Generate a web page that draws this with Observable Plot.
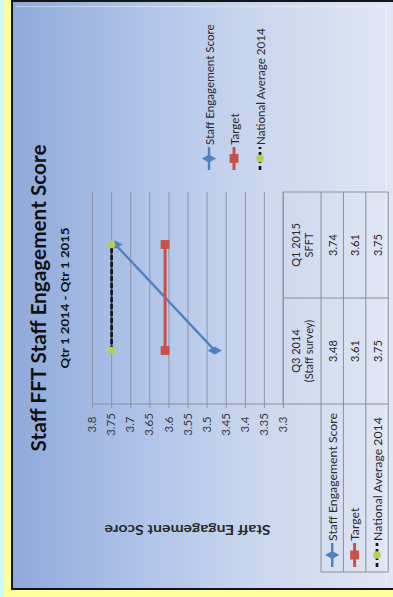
<!DOCTYPE html>
<html>
<head>
<meta charset="utf-8">
<script src="https://cdn.jsdelivr.net/npm/d3@7"></script>
<script src="https://cdn.jsdelivr.net/npm/@observablehq/plot@0.6"></script>
<style>
  html, body { margin: 0; padding: 0; width: 393px; height: 597px; overflow: hidden; background: #cdfafa; }
  #frame { position: absolute; left: 0; top: 0; width: 597px; height: 393px;
           transform-origin: 0 0; transform: translate(0, 597px) rotate(-90deg); }
  #frame > div { position: absolute; }
  #frame svg { position: absolute; left: 0; top: 0; }
</style>
</head>
<body>
<div id="frame">
  <div style="left:0;top:0;width:597px;height:4px;background:#cdfafa"></div>
  <div style="left:0;top:4px;width:597px;height:389px;background:#ffff9e"></div>
  <div style="left:7px;top:11px;width:590px;height:382px;background:#151515"></div>
  <div style="left:9px;top:13px;width:586px;height:380px;background:linear-gradient(to bottom,#8fa9db 0%,#b0c4e8 35%,#cbd7ee 65%,#e0e6f3 100%)"></div>
  <div style="left:12px;top:16px;width:578px;height:370px;border:1px solid rgba(255,255,255,0.45);border-left:none;border-top:none"></div>
</div>
<script>
// Chart values
const categories = ["Q3 2014", "Q1 2015"];
const categoryNotes = ["(Staff survey)", "SFFT"];
const seriesNames = ["Staff Engagement Score", "Target", "National Average 2014"];
const staffScore = [3.48, 3.74];
const target = [3.61, 3.61];
const nationalAverage = [3.75, 3.75];
const yTicks = [3.3, 3.35, 3.4, 3.45, 3.5, 3.55, 3.6, 3.65, 3.7, 3.75, 3.8];
const titleText = "Staff FFT Staff Engagement Score";
const subtitleText = "Qtr 1 2014 - Qtr 1 2015";
const yLabel = "Staff Engagement Score";

const FONT = "Lato, 'Open Sans', sans-serif";
const W = 597, H = 393;

// Series styling (line colour, width, dash, marker)
const series = [
  {name: seriesNames[0], values: staffScore, color: "#4f81bd", width: 2.4, dash: null, symbol: "diamond", r: 4.3, fill: "#4f81bd"},
  {name: seriesNames[1], values: target, color: "#c9504a", width: 3, dash: null, symbol: "square", r: 5, fill: "#c9504a"},
  {name: seriesNames[2], values: nationalAverage, color: "#141414", width: 2.7, dash: "4,3", symbol: "circle", r: 3.7, fill: "#b5cf50"}
];

const marks = [
  Plot.gridY(yTicks, {stroke: "#8990a0", strokeOpacity: 0.9, strokeWidth: 1}),
  Plot.axisY(yTicks, {
    tickSize: 4, tickPadding: 17, textAnchor: "middle",
    tickFormat: d => String(Math.round(d * 100) / 100),
    fill: "#3a3a3a", stroke: "#8990a0", fontSize: 11.5, label: null
  })
];
for (const s of series) {
  const pts = categories.map((c, i) => ({cat: c, value: s.values[i]}));
  marks.push(Plot.line(pts, {x: "cat", y: "value", stroke: s.color, strokeWidth: s.width, strokeDasharray: s.dash}));
  marks.push(Plot.dot(pts, {x: "cat", y: "value", symbol: s.symbol, r: s.r, fill: s.fill, stroke: "none"}));
}

const plot = Plot.plot({
  width: W, height: H,
  marginLeft: 193, marginRight: 192, marginTop: 92, marginBottom: 110,
  style: {background: "transparent", fontFamily: FONT, overflow: "visible"},
  x: {type: "point", domain: categories, padding: 0.5, axis: null},
  y: {domain: [3.3, 3.8]},
  marks
});
document.getElementById("frame").appendChild(plot);

// Scales shared by the axis lines, data table and labels
const xs = plot.scale("x"), ys = plot.scale("y");
const px = c => xs.apply(c);
const step = px(categories[1]) - px(categories[0]);
const left = px(categories[0]) - step / 2;
const right = px(categories[categories.length - 1]) + step / 2;
const plotTop = ys.apply(3.8), plotBottom = ys.apply(3.3);

const svg = d3.select(plot);
const lineCol = "#8a8f99";
const textCol = "#2a2a2a";

// Value axis line
svg.append("line").attr("x1", left).attr("x2", left).attr("y1", plotTop).attr("y2", plotBottom)
  .attr("stroke", lineCol).attr("stroke-width", 1);

// Title and subtitle
const cx = (left + right) / 2;
svg.append("text").attr("x", cx).attr("y", 46).attr("text-anchor", "middle")
  .attr("font-family", FONT).attr("font-weight", 700).attr("font-size", 20)
  .attr("textLength", 307).attr("lengthAdjust", "spacingAndGlyphs")
  .attr("fill", "#111").text(titleText);
svg.append("text").attr("x", cx).attr("y", 69).attr("text-anchor", "middle")
  .attr("font-family", FONT).attr("font-weight", 700).attr("font-size", 11.5)
  .attr("textLength", 141).attr("lengthAdjust", "spacingAndGlyphs")
  .attr("fill", "#111").text(subtitleText);

// Axis title
svg.append("text").attr("transform", `translate(67,${(plotTop + plotBottom) / 2}) rotate(-90)`)
  .attr("text-anchor", "middle").attr("dominant-baseline", "central")
  .attr("font-family", FONT).attr("font-weight", 700).attr("font-size", 13)
  .attr("textLength", 166).attr("lengthAdjust", "spacingAndGlyphs")
  .attr("fill", textCol).text(yLabel);

// Legend key: line segment with its marker
function key(g, s, x0, x1, y) {
  g.append("line").attr("x1", x0).attr("x2", x1).attr("y1", y).attr("y2", y)
    .attr("stroke", s.color).attr("stroke-width", s.width)
    .attr("stroke-dasharray", s.dash);
  const sym = {diamond: d3.symbolDiamond, square: d3.symbolSquare, circle: d3.symbolCircle}[s.symbol];
  g.append("path").attr("transform", `translate(${(x0 + x1) / 2},${y})`)
    .attr("d", d3.symbol(sym, Math.PI * s.r * s.r)()).attr("fill", s.fill);
}

// Legend
const legendRows = [209, 234, 260];
series.forEach((s, i) => {
  const g = svg.append("g");
  key(g, s, 427, 450, legendRows[i]);
  g.append("text").attr("x", 452).attr("y", legendRows[i]).attr("text-anchor", "start")
    .attr("dominant-baseline", "central")
    .attr("font-family", FONT).attr("font-size", 11.6).attr("fill", textCol).text(s.name);
});

// Data table beneath the plot
const labelLeft = 25;
const headerBottom = plotBottom + 38;
const rowH = 22.4;
const tableBottom = headerBottom + rowH * series.length;
const tg = svg.append("g").attr("stroke", lineCol).attr("stroke-width", 1);
for (let k = 0; k <= series.length; k++) {
  const y = headerBottom + k * rowH;
  tg.append("line").attr("x1", labelLeft).attr("x2", right).attr("y1", y).attr("y2", y);
}
tg.append("line").attr("x1", labelLeft).attr("x2", labelLeft).attr("y1", headerBottom).attr("y2", tableBottom);
// Column separators in header and body
[left, ...categories.slice(1).map(c => px(c) - step / 2), right].forEach(x =>
  tg.append("line").attr("x1", x).attr("x2", x).attr("y1", plotBottom).attr("y2", tableBottom)
);
// Category axis line
tg.append("line").attr("x1", left).attr("x2", right).attr("y1", plotBottom).attr("y2", plotBottom);

categories.forEach((c, i) => {
  const t = svg.append("text").attr("text-anchor", "middle").attr("font-family", FONT)
    .attr("font-size", 11).attr("fill", textCol);
  t.append("tspan").attr("x", px(c)).attr("y", plotBottom + 17).text(c);
  t.append("tspan").attr("x", px(c)).attr("y", plotBottom + 30).text(categoryNotes[i]);
});
series.forEach((s, k) => {
  const y = headerBottom + rowH * (k + 0.5);
  categories.forEach((c, i) => {
    svg.append("text").attr("x", px(c)).attr("y", y).attr("text-anchor", "middle")
      .attr("dominant-baseline", "central").attr("font-family", FONT).attr("font-size", 11)
      .attr("fill", textCol).text(s.values[i].toFixed(2));
  });
  const g = svg.append("g");
  key(g, s, labelLeft + 5, labelLeft + 29, y);
  g.append("text").attr("x", labelLeft + 31).attr("y", y).attr("text-anchor", "start")
    .attr("dominant-baseline", "central")
    .attr("font-family", FONT).attr("font-size", 12.3).attr("fill", textCol).text(s.name);
});
</script>
</body>
</html>
